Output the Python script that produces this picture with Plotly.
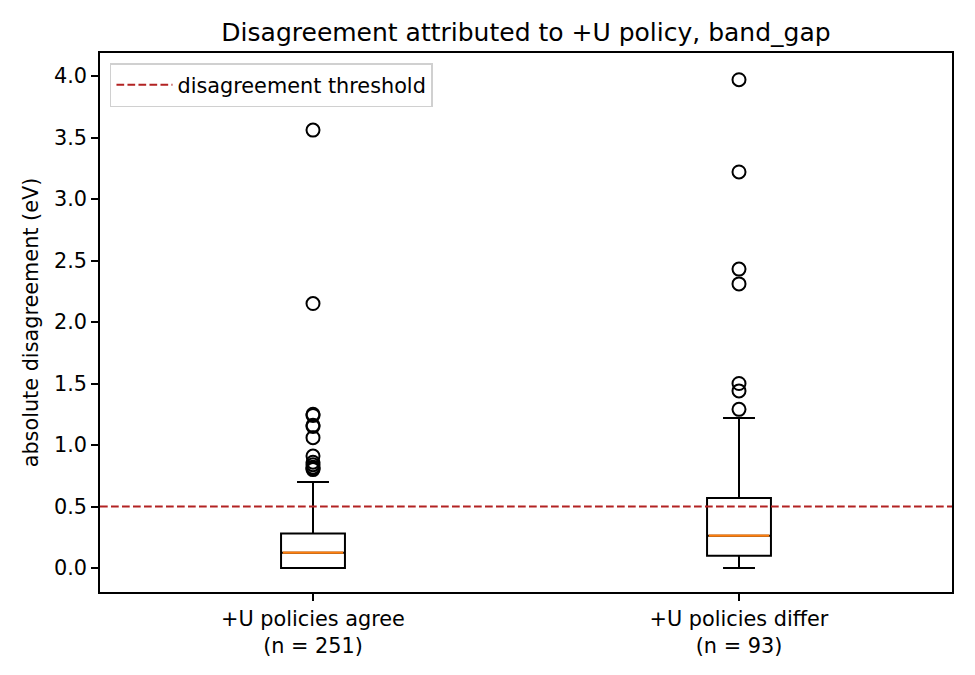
import plotly.graph_objects as go

# ---- data ----
categories = ["+U policies agree<br>(n = 251)", "+U policies differ<br>(n = 93)"]
positions = [1, 2]
q1 = [0.0, 0.10]
median = [0.125, 0.263]
q3 = [0.28, 0.57]
lower_whisker = [0.0, 0.0]
upper_whisker = [0.70, 1.22]
outliers_agree = [3.56, 2.15, 1.25, 1.24, 1.16, 1.15, 1.06, 0.91, 0.86, 0.84, 0.82, 0.81, 0.80]
outliers_differ = [3.97, 3.22, 2.43, 2.31, 1.50, 1.44, 1.29]
threshold = 0.5
y_ticks = [0.0, 0.5, 1.0, 1.5, 2.0, 2.5, 3.0, 3.5, 4.0]

BOX_W = 0.15
XMIN, XMAX = 0.5, 2.5
FS = 20.8

fig = go.Figure()

# threshold line
fig.add_trace(go.Scatter(
    x=[XMIN, XMAX], y=[threshold, threshold], mode="lines",
    line=dict(color="#b22222", width=2, dash="7.7px,3.3px"),
    name="disagreement threshold", showlegend=True))

# boxes
fig.add_trace(go.Box(
    x=positions, q1=q1, median=median, q3=q3,
    lowerfence=lower_whisker, upperfence=upper_whisker,
    width=BOX_W, whiskerwidth=0.5, boxpoints=False,
    line=dict(color="black", width=2), fillcolor="rgba(255,255,255,0)",
    showlegend=False, hoverinfo="skip"))

# orange medians
for p, m in zip(positions, median):
    fig.add_trace(go.Scatter(
        x=[p - BOX_W / 2 + 0.004, p + BOX_W / 2 - 0.004], y=[m, m], mode="lines",
        line=dict(color="#ff7f0e", width=2.2), showlegend=False, hoverinfo="skip"))

# outliers
for p, outs in zip(positions, [outliers_agree, outliers_differ]):
    fig.add_trace(go.Scatter(
        x=[p] * len(outs), y=outs, mode="markers",
        marker=dict(symbol="circle-open", size=13, color="black", line=dict(width=2)),
        showlegend=False, hoverinfo="skip"))

font_family = "DejaVu Sans"
W, H = 967, 667
fig.update_layout(
    width=W, height=H,
    margin=dict(l=92, r=23, t=45, b=83),
    paper_bgcolor="white", plot_bgcolor="white",
    font=dict(family=font_family, size=FS, color="black"),
    title=dict(text="Disagreement attributed to +U policy, band_gap",
               x=0.5, xanchor="center", xref="paper",
               y=1 - 24 / H, yanchor="middle",
               font=dict(size=25, family=font_family)),
    showlegend=True,
    legend=dict(x=0.0117, y=0.981, xanchor="left", yanchor="top",
                bordercolor="#d0d0d0", borderwidth=1.5, bgcolor="rgba(255,255,255,0.8)",
                font=dict(size=FS), itemwidth=56, tracegroupgap=0),
)
fig.update_xaxes(range=[XMIN, XMAX], tickvals=positions, ticktext=categories,
                 showline=True, linecolor="black", linewidth=1.6, mirror=True,
                 ticks="outside", ticklen=7, tickwidth=1.6, tickcolor="black",
                 tickfont=dict(size=FS), showgrid=False, zeroline=False)
fig.update_yaxes(range=[-0.195, 4.187], tickvals=y_ticks, tickformat=".1f",
                 title=dict(text="absolute disagreement (eV)", standoff=10, font=dict(size=FS)),
                 showline=True, linecolor="black", linewidth=1.6, mirror=True,
                 ticks="outside", ticklen=7, tickwidth=1.6, tickcolor="black",
                 tickfont=dict(size=FS), showgrid=False, zeroline=False)

fig.write_html("out.html")
